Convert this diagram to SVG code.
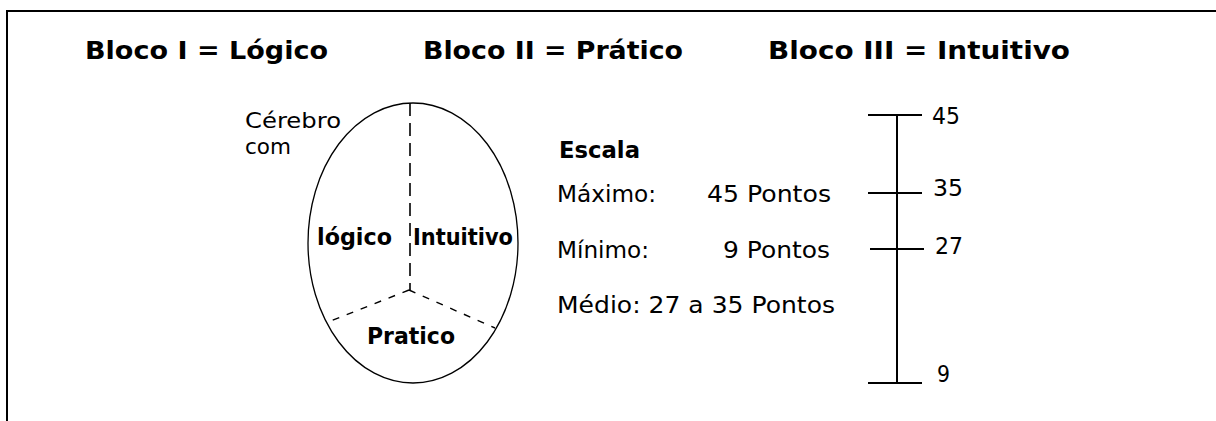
<svg xmlns="http://www.w3.org/2000/svg" width="1216" height="421" viewBox="0 0 1216 421">
<style>
.t{font-family:"DejaVu Sans",Verdana,sans-serif;font-size:23px;fill:#000}
.s{font-family:"DejaVu Sans",Verdana,sans-serif;font-size:21px;fill:#000}
.b{font-family:"DejaVu Sans",Verdana,sans-serif;font-size:23px;font-weight:bold;fill:#000}
.h{font-family:"DejaVu Sans",Verdana,sans-serif;font-size:24px;font-weight:bold;fill:#000}
.ln{stroke:#000;stroke-width:2;fill:none}
.dv{stroke:#000;stroke-width:1.6;fill:none;stroke-dasharray:13 7}
.da{stroke:#000;stroke-width:1.4;fill:none;stroke-dasharray:7 8}
</style>
<rect width="1216" height="421" fill="#fff"/>
<g id="frame">
<line class="ln" x1="6" y1="11" x2="1216" y2="11"/>
<line class="ln" x1="7" y1="10" x2="7" y2="421"/>
</g>
<g id="titles">
<text class="h" x="85" y="59" textLength="243" lengthAdjust="spacingAndGlyphs">Bloco I = Lógico</text>
<text class="h" x="423" y="59" textLength="260" lengthAdjust="spacingAndGlyphs">Bloco II = Prático</text>
<text class="h" x="768" y="59" textLength="302" lengthAdjust="spacingAndGlyphs">Bloco III = Intuitivo</text>
</g>
<g id="brain">
<text class="s" x="245" y="128" textLength="96" lengthAdjust="spacingAndGlyphs">Cérebro</text>
<text class="s" x="245" y="154" textLength="46" lengthAdjust="spacingAndGlyphs">com</text>
<ellipse cx="413" cy="243" rx="105" ry="140" fill="none" stroke="#000" stroke-width="1.3"/>
<g id="connectors">
<line class="dv" x1="410" y1="103" x2="410" y2="290"/>
<line class="da" x1="409" y1="290" x2="328" y2="322"/>
<line class="da" x1="409" y1="290" x2="495" y2="328"/>
</g>
<text class="b" x="317" y="245" textLength="75" lengthAdjust="spacingAndGlyphs">lógico</text>
<text class="b" x="413" y="245" textLength="100" lengthAdjust="spacingAndGlyphs">Intuitivo</text>
<text class="b" x="367" y="344" textLength="88" lengthAdjust="spacingAndGlyphs">Pratico</text>
</g>
<g id="legend">
<text class="b" x="559" y="158" textLength="81" lengthAdjust="spacingAndGlyphs">Escala</text>
<text class="t" x="557" y="202" textLength="99" lengthAdjust="spacingAndGlyphs">Máximo:</text>
<text class="t" x="707" y="202" textLength="124" lengthAdjust="spacingAndGlyphs">45 Pontos</text>
<text class="t" x="557" y="258" textLength="92" lengthAdjust="spacingAndGlyphs">Mínimo:</text>
<text class="t" x="723" y="258" textLength="107" lengthAdjust="spacingAndGlyphs">9 Pontos</text>
<text class="t" x="557" y="313" textLength="278" lengthAdjust="spacingAndGlyphs">Médio: 27 a 35 Pontos</text>
</g>
<g id="scale">
<line class="ln" x1="897" y1="115" x2="897" y2="383"/>
<line class="ln" x1="868" y1="115" x2="922" y2="115"/>
<line class="ln" x1="868" y1="193" x2="922" y2="193"/>
<line class="ln" x1="870" y1="249" x2="924" y2="249"/>
<line class="ln" x1="868" y1="383" x2="922" y2="383"/>
<text class="t" x="932" y="124" textLength="28" lengthAdjust="spacingAndGlyphs">45</text>
<text class="t" x="933" y="196" textLength="30" lengthAdjust="spacingAndGlyphs">35</text>
<text class="t" x="935" y="254" textLength="28" lengthAdjust="spacingAndGlyphs">27</text>
<text class="t" x="937" y="382" textLength="13" lengthAdjust="spacingAndGlyphs">9</text>
</g>
</svg>
